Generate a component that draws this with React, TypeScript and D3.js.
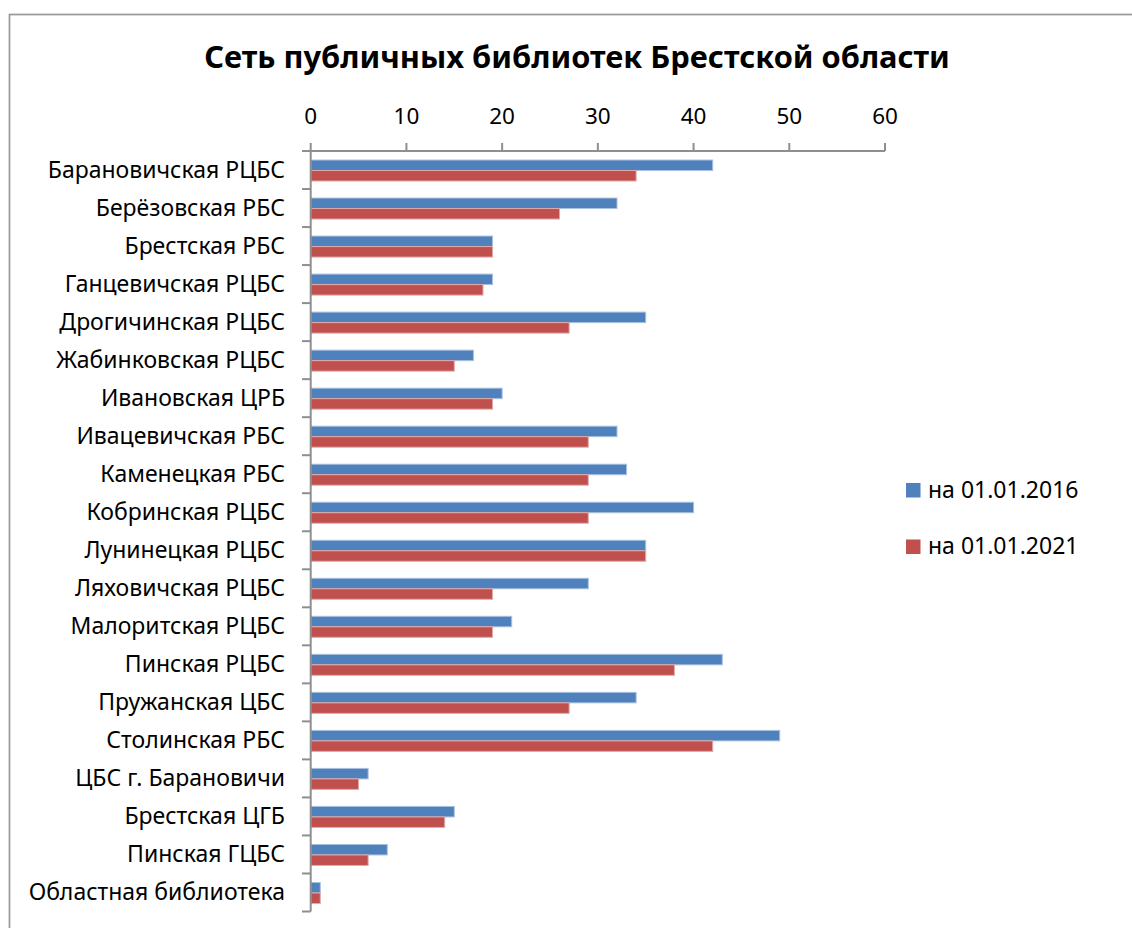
import React from "react";
import * as d3 from "d3";

const categories = [
  "Барановичская РЦБС",
  "Берёзовская РБС",
  "Брестская РБС",
  "Ганцевичская РЦБС",
  "Дрогичинская РЦБС",
  "Жабинковская РЦБС",
  "Ивановская ЦРБ",
  "Ивацевичская РБС",
  "Каменецкая РБС",
  "Кобринская РЦБС",
  "Лунинецкая РЦБС",
  "Ляховичская РЦБС",
  "Малоритская РЦБС",
  "Пинская РЦБС",
  "Пружанская ЦБС",
  "Столинская РБС",
  "ЦБС г. Барановичи",
  "Брестская ЦГБ",
  "Пинская ГЦБС",
  "Областная библиотека",
];

const values2016 = [42, 32, 19, 19, 35, 17, 20, 32, 33, 40, 35, 29, 21, 43, 34, 49, 6, 15, 8, 1];
const values2021 = [34, 26, 19, 18, 27, 15, 19, 29, 29, 29, 35, 19, 19, 38, 27, 42, 5, 14, 6, 1];

const seriesNames = ["на 01.01.2016", "на 01.01.2021"];
const xTicks = [0, 10, 20, 30, 40, 50, 60];
const title = "Сеть публичных библиотек Брестской области";

const colors = ["#4F81BD", "#C0504D"];
const strokes = ["#A9C1E0", "#E2A9A7"];

export default function App() {
  const W = 1132;
  const H = 928;
  const x = d3.scaleLinear().domain([0, 60]).range([310.7, 885]);
  const y = d3.scaleBand<string>().domain(categories).range([151, 911.5]);
  const bw = y.bandwidth();
  const groupH = 21;
  const inner = d3.scaleBand<string>().domain(seriesNames).range([0, groupH]);
  const series = [values2016, values2021];
  const font = "'Noto Sans', sans-serif";
  const axisColor = "#8e8e8e";

  return (
    <svg
      width={W}
      height={H}
      style={{ position: "absolute", left: 0, top: 0, background: "#fff" }}
      fontFamily={font}
    >
      <rect x={0} y={0} width={W} height={H} fill="#fff" />
      <rect x={9.5} y={14.5} width={W + 20} height={H + 20} fill="none" stroke="#9a9a9a" strokeWidth={1.75} />
      <text x={577} y={68} textAnchor="middle" fontSize={30.8} fontWeight="bold" fill="#000">
        {title}
      </text>

      {/* bars */}
      {series.map((vals, si) =>
        categories.map((c, i) => {
          const y0 = (y(c) as number) + (bw - groupH) / 2 + 0.5 + (inner(seriesNames[si]) as number);
          return (
            <rect
              key={`${si}-${i}`}
              x={x(0)}
              y={y0}
              width={x(vals[i]) - x(0)}
              height={inner.bandwidth()}
              fill={colors[si]}
              stroke={strokes[si]}
              strokeWidth={1}
            />
          );
        })
      )}

      {/* top value axis */}
      <line x1={302} x2={x(60)} y1={151} y2={151} stroke={axisColor} strokeWidth={2} />
      {xTicks.map((t) => (
        <g key={t}>
          <line x1={x(t)} x2={x(t)} y1={143} y2={151} stroke={axisColor} strokeWidth={2} />
          <text x={x(t)} y={124} textAnchor="middle" fontSize={22.5} fill="#000">
            {t}
          </text>
        </g>
      ))}

      {/* category axis */}
      <line x1={x(0)} x2={x(0)} y1={151} y2={911.5} stroke={axisColor} strokeWidth={2} />
      {categories.map((c, i) => (
        <line
          key={`t${i}`}
          x1={302}
          x2={x(0)}
          y1={(y(c) as number) + bw}
          y2={(y(c) as number) + bw}
          stroke={axisColor}
          strokeWidth={2}
        />
      ))}
      {categories.map((c) => (
        <text
          key={c}
          x={285}
          y={(y(c) as number) + bw / 2 + 8}
          textAnchor="end"
          fontSize={23}
          fill="#000"
        >
          {c}
        </text>
      ))}

      {/* legend */}
      {seriesNames.map((s, i) => (
        <g key={s}>
          <rect x={906} y={483 + i * 56.5} width={14.5} height={14.5} fill={colors[i]} />
          <text x={928} y={497.5 + i * 56.5} fontSize={23} fill="#000">
            {s}
          </text>
        </g>
      ))}
    </svg>
  );
}
